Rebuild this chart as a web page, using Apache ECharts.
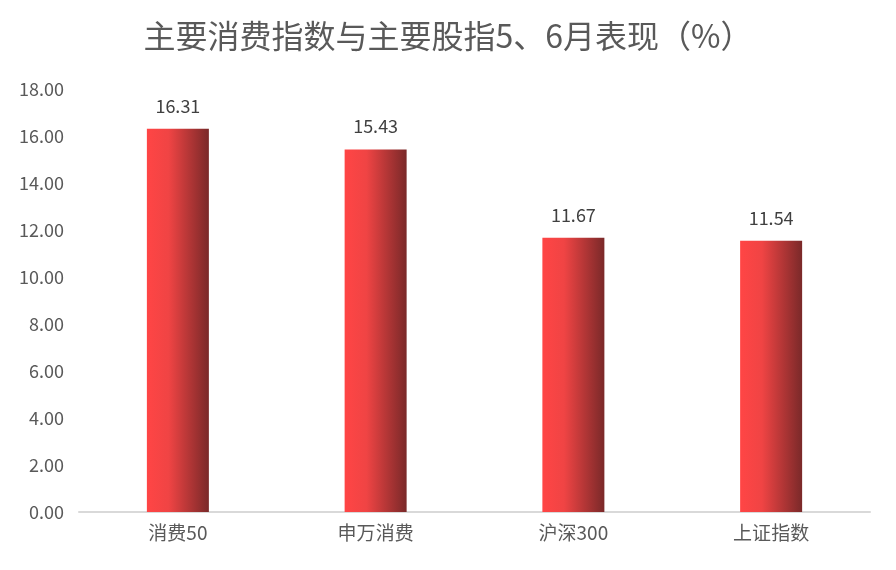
<!DOCTYPE html>
<html><head><meta charset="utf-8">
<script src="https://cdn.jsdelivr.net/npm/echarts@6/dist/echarts.min.js"></script>
<style>html,body{margin:0;padding:0;background:#fff}#c{width:896px;height:570px}</style>
</head><body><div id="c"></div>
<script>
const titleText = '主要消费指数与主要股指5、6月表现（%）';
const categories = ['消费50', '申万消费', '沪深300', '上证指数'];
const values = [16.31, 15.43, 11.67, 11.54];
const yTicks = {min: 0, max: 18, interval: 2};

const chart = echarts.init(document.getElementById('c'));
chart.setOption({
  animation: false,
  title: {text: titleText, left: 'center', top: 15,
    textStyle: {fontFamily: 'Noto Sans CJK SC', fontSize: 32, fontWeight: 'normal', color: '#595959'}},
  grid: {left: 79, right: 26, top: 89, bottom: 58},
  xAxis: {type: 'category', data: categories,
    axisLine: {lineStyle: {color: '#d9d9d9', width: 2}},
    axisTick: {show: false},
    axisLabel: {fontFamily: 'Noto Sans CJK SC', fontSize: 19, color: '#595959', margin: 11}},
  yAxis: {type: 'value', min: yTicks.min, max: yTicks.max, interval: yTicks.interval,
    axisLine: {show: false}, axisTick: {show: false}, splitLine: {show: false},
    axisLabel: {fontFamily: 'Noto Sans CJK SC', fontSize: 18, color: '#595959', margin: 15,
      formatter: v => v.toFixed(2)}},
  series: [{type: 'bar', data: values, barWidth: 62,
    itemStyle: {color: new echarts.graphic.LinearGradient(0, 0, 1, 0, [
      {offset: 0, color: '#ff4545'}, {offset: 0.35, color: '#f04444'},
      {offset: 1, color: '#7a2929'}])},
    label: {show: true, position: 'top', distance: 14,
      fontFamily: 'Noto Sans CJK SC', fontSize: 18, color: '#404040',
      formatter: p => p.value.toFixed(2)}}]
});
</script></body></html>
